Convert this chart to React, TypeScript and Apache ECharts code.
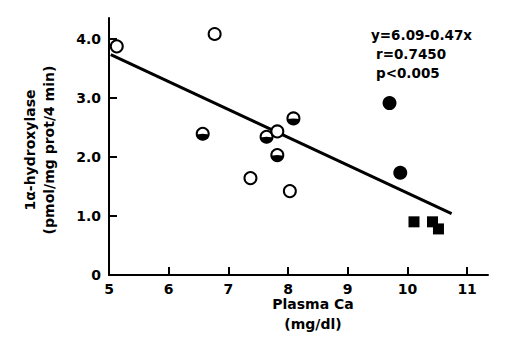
import React, { useEffect, useRef } from "react";
import * as echarts from "echarts";

const openCircles: [number, number][] = [
  [5.13, 3.87],
  [6.77, 4.08],
  [7.37, 1.64],
  [7.82, 2.43],
  [8.03, 1.42],
];
const halfCircles: [number, number][] = [
  [6.57, 2.39],
  [7.64, 2.34],
  [7.82, 2.03],
  [8.09, 2.65],
];
const filledCircles: [number, number][] = [
  [9.7, 2.91],
  [9.88, 1.73],
];
const filledSquares: [number, number][] = [
  [10.11, 0.9],
  [10.42, 0.9],
  [10.52, 0.78],
];
const regressionLine: [number, number][] = [
  [5.03, 3.73],
  [10.74, 1.04],
];
const xTicks = [5, 6, 7, 8, 9, 10, 11];
const yTicks = [0, 1, 2, 3, 4];
const statLines = ["y=6.09-0.47x", "r=0.7450", "p<0.005"];

const FONT = "'DejaVu Sans', sans-serif";

export default function App() {
  const ref = useRef<HTMLDivElement>(null);
  useEffect(() => {
    if (!ref.current) return;
    const chart = echarts.init(ref.current, null, { renderer: "svg" });
    chart.setOption({
      animation: false,
      backgroundColor: "#fff",
      grid: { left: 109, right: 21, top: 18, bottom: 68 },
      xAxis: {
        type: "value",
        min: 5,
        max: 11.35,
        interval: 1,
        splitLine: { show: false },
        axisLine: { show: true, onZero: false, lineStyle: { color: "#000", width: 2 } },
        axisTick: { show: true, inside: true, length: 8, lineStyle: { color: "#000", width: 2 }, customValues: xTicks },
        axisLabel: {
          color: "#000",
          fontFamily: FONT,
          fontWeight: "bold",
          fontSize: 14,
          margin: 7,
          customValues: xTicks,
          formatter: (v: number) => String(v),
        },
      },
      yAxis: {
        type: "value",
        min: 0,
        max: 4.35,
        interval: 1,
        splitLine: { show: false },
        axisLine: { show: true, onZero: false, lineStyle: { color: "#000", width: 2 } },
        axisTick: { show: true, inside: true, length: 8, lineStyle: { color: "#000", width: 2 }, customValues: yTicks },
        axisLabel: {
          color: "#000",
          fontFamily: FONT,
          fontWeight: "bold",
          fontSize: 14,
          margin: 8,
          customValues: yTicks,
          formatter: (v: number) => (v === 0 ? "0" : v.toFixed(1)),
        },
      },
      graphic: [
        {
          type: "text",
          x: 30,
          y: 150,
          rotation: Math.PI / 2,
          style: {
            text: "1α-hydroxylase",
            fill: "#000",
            font: `bold 14px ${FONT}`,
            textAlign: "center",
            textVerticalAlign: "middle",
          },
        },
        {
          type: "text",
          x: 49,
          y: 150,
          rotation: Math.PI / 2,
          style: {
            text: "(pmol/mg prot/4 min)",
            fill: "#000",
            font: `bold 14px ${FONT}`,
            textAlign: "center",
            textVerticalAlign: "middle",
          },
        },
        {
          type: "text",
          x: 313,
          y: 304,
          style: {
            text: "Plasma Ca",
            fill: "#000",
            font: `bold 14px ${FONT}`,
            textAlign: "center",
            textVerticalAlign: "middle",
          },
        },
        {
          type: "text",
          x: 313,
          y: 324,
          style: {
            text: "(mg/dl)",
            fill: "#000",
            font: `bold 14px ${FONT}`,
            textAlign: "center",
            textVerticalAlign: "middle",
          },
        },
        ...statLines.map((t, i) => ({
          type: "text",
          x: i === 0 ? 371 : 376,
          y: 35 + i * 19,
          style: {
            text: t,
            fill: "#000",
            font: `bold 13.5px ${FONT}`,
            textAlign: "left",
            textVerticalAlign: "middle",
          },
        })),
      ],
      series: [
        {
          type: "line",
          data: regressionLine,
          symbol: "none",
          z: 1,
          lineStyle: { color: "#000", width: 3 },
        },
        {
          type: "scatter",
          data: openCircles,
          symbol: "circle",
          symbolSize: 12,
          z: 3,
          itemStyle: { color: "#fff", borderColor: "#000", borderWidth: 2, opacity: 1 },
        },
        {
          type: "custom",
          data: halfCircles,
          z: 3,
          renderItem: (_params: any, api: any) => {
            const p = api.coord([api.value(0), api.value(1)]);
            return {
              type: "group",
              children: [
                {
                  type: "circle",
                  shape: { cx: p[0], cy: p[1], r: 6 },
                  style: { fill: "#fff", stroke: "#000", lineWidth: 2 },
                },
                {
                  type: "sector",
                  shape: { cx: p[0], cy: p[1], r: 6.5, r0: 0, startAngle: 0.1, endAngle: Math.PI - 0.1, clockwise: true },
                  style: { fill: "#000" },
                },
              ],
            };
          },
        },
        {
          type: "scatter",
          data: filledCircles,
          symbol: "circle",
          symbolSize: 14,
          z: 3,
          itemStyle: { color: "#000", opacity: 1 },
        },
        {
          type: "scatter",
          data: filledSquares,
          symbol: "rect",
          symbolSize: 11,
          z: 3,
          itemStyle: { color: "#000", opacity: 1 },
        },
      ],
    });
    return () => chart.dispose();
  }, []);
  return (
    <div
      ref={ref}
      style={{ position: "fixed", left: 0, top: 0, width: 509, height: 343, background: "#fff" }}
    />
  );
}
